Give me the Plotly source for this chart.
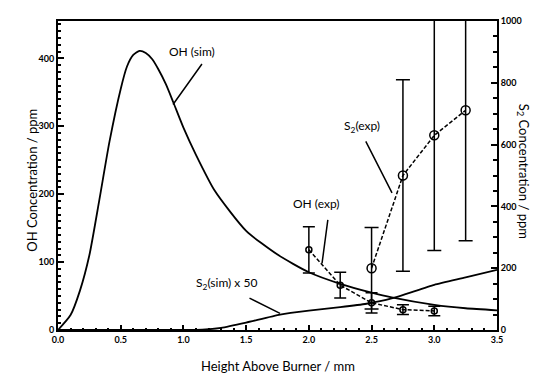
import plotly.graph_objects as go

# OH simulated profile (left axis, ppm)
oh_sim_x = [0, 0.1, 0.175, 0.25, 0.33, 0.41, 0.5, 0.55, 0.6, 0.65, 0.7, 0.75, 0.8, 0.86, 0.92, 1.0, 1.1, 1.25, 1.5, 1.75, 2.0, 2.25, 2.5, 2.66, 3.0, 3.25, 3.5]
oh_sim_y = [0, 22, 58, 110, 192, 277, 355, 388, 405, 411, 408, 399, 384, 362, 335, 298, 258, 205, 146, 111, 85, 68, 55, 48, 37, 32, 29]

# S2 simulated profile x 50 (right axis, ppm)
s2_sim_x = [0, 1.0, 1.15, 1.3, 1.5, 1.77, 2.0, 2.25, 2.46, 2.66, 3.0, 3.25, 3.5]
s2_sim_y = [0, 0, 1, 7, 24, 50, 63, 74, 85, 102, 146, 170, 195]

# OH experimental (left axis)
oh_exp_x = [2.0, 2.25, 2.5, 2.75, 3.0]
oh_exp_y = [118, 66, 40, 30, 28]
oh_exp_err = [34, 19, 15, 7, 7]

# S2 experimental (right axis)
s2_exp_x = [2.5, 2.75, 3.0, 3.25]
s2_exp_y = [200, 500, 630, 711]
s2_exp_err = [132, 310, 373, 422]

x_ticks = [0, 0.5, 1.0, 1.5, 2.0, 2.5, 3.0, 3.5]
left_ticks = [0, 100, 200, 300, 400]
right_ticks = [0, 200, 400, 600, 800, 1000]

FONT = "Lato"
fig = go.Figure()

fig.add_trace(go.Scatter(x=oh_sim_x, y=oh_sim_y, mode="lines", line=dict(color="black", width=1.8, shape="spline", smoothing=0.6), showlegend=False))
fig.add_trace(go.Scatter(x=s2_sim_x, y=s2_sim_y, mode="lines", yaxis="y2", line=dict(color="black", width=1.8, shape="spline", smoothing=0.5), showlegend=False))
fig.add_trace(go.Scatter(x=oh_exp_x, y=oh_exp_y, mode="lines+markers",
                         line=dict(color="black", width=1.5, dash="4px,2px"),
                         marker=dict(symbol="circle-open", size=6, color="black", line=dict(width=1.5)),
                         error_y=dict(type="data", array=oh_exp_err, visible=True, color="black", thickness=1.5, width=6),
                         showlegend=False))
fig.add_trace(go.Scatter(x=s2_exp_x, y=s2_exp_y, mode="lines+markers", yaxis="y2",
                         line=dict(color="black", width=1.5, dash="4px,2px"),
                         marker=dict(symbol="circle-open", size=9, color="black", line=dict(width=1.5)),
                         error_y=dict(type="data", array=s2_exp_err, visible=True, color="black", thickness=1.5, width=7),
                         showlegend=False))

tickfont = dict(family=FONT, size=9, color="black", weight="bold")
# the page body adds an 8px offset, so the figure is 8px smaller and margins shifted
fig.update_layout(
    width=533, height=367,
    margin=dict(l=50, r=44, t=7, b=45),
    paper_bgcolor="white", plot_bgcolor="white",
    font=dict(family=FONT, color="black"),
    xaxis=dict(range=[0, 3.5], tickvals=x_ticks, tickformat=".1f", ticks="inside", ticklen=5, tickwidth=1.5,
               tickcolor="black", showline=True, linecolor="black", linewidth=2, mirror=True,
               showgrid=False, zeroline=False, tickfont=tickfont,
               minor=dict(ticks="inside", dtick=0.1, ticklen=2, tickcolor="black", showgrid=False)),
    yaxis=dict(range=[0, 455], tickvals=left_ticks, ticks="inside", ticklen=6, tickwidth=1.5, tickcolor="black",
               showline=True, linecolor="black", linewidth=2, showgrid=False, zeroline=False, tickfont=tickfont,
               minor=dict(ticks="inside", dtick=10, ticklen=3, tickcolor="black", showgrid=False)),
    yaxis2=dict(range=[0, 1000], tickvals=right_ticks, overlaying="y", side="right", ticks="inside", ticklen=6,
                tickwidth=1.5, tickcolor="black", showline=True, linecolor="black", linewidth=2,
                showgrid=False, zeroline=False, tickfont=tickfont,
                minor=dict(ticks="inside", dtick=50, ticklen=4, tickcolor="black", showgrid=False)),
)

lab = dict(family=FONT, size=12, color="black")
anns = [
    dict(x=1.07, y=410, text="OH (sim)"),
    dict(x=1.34, y=68, text="S<sub>2</sub>(sim) x 50"),
    dict(x=2.06, y=186, text="OH (exp)"),
    dict(x=2.42, y=300, text="S<sub>2</sub>(exp)"),
]
for a in anns:
    fig.add_annotation(x=a["x"], y=a["y"], xref="x", yref="y", text=a["text"], showarrow=False, font=lab)

arrows = [
    dict(x=0.917, y=332, ax=30, ay=-42),
    dict(x=1.77, y=24.5, ax=-32, ay=-16),
    dict(x=2.105, y=98, ax=6, ay=-45),
    dict(x=2.663, y=202, ax=-27, ay=-53),
]
for a in arrows:
    fig.add_annotation(x=a["x"], y=a["y"], xref="x", yref="y", ax=a["ax"], ay=a["ay"], text="",
                       showarrow=True, arrowhead=0, arrowwidth=1.5, arrowcolor="black", standoff=0)

fig.add_annotation(x=0.5, y=-0.117, xref="paper", yref="paper", text="Height Above Burner / mm",
                   showarrow=False, font=dict(family=FONT, size=13, color="black"), yanchor="middle")
fig.add_annotation(x=-0.082, y=0.483, xref="paper", yref="paper", text="OH Concentration / ppm", textangle=-90,
                   showarrow=False, font=dict(family=FONT, size=13, color="black"))
fig.add_annotation(x=1.085, y=0.514, xref="paper", yref="paper", text="S<sub>2</sub> Concentration / ppm", textangle=90,
                   showarrow=False, font=dict(family=FONT, size=13, color="black"))

fig.write_html("out.html")
